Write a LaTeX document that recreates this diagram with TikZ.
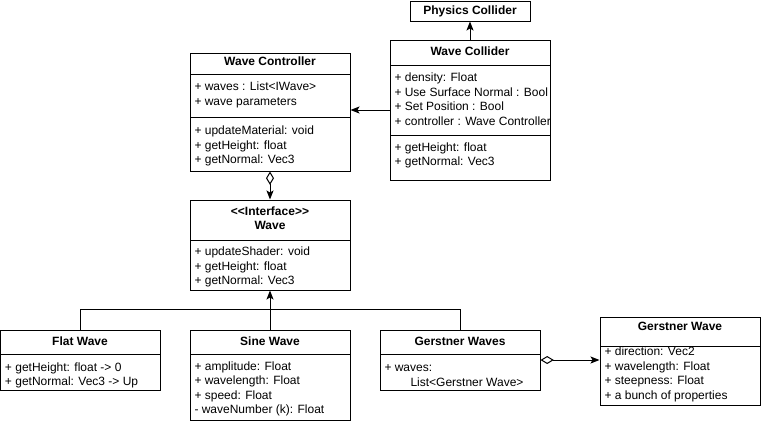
\documentclass[tikz,border=0pt]{standalone}
\usepackage{fontspec}
\setmainfont{Liberation Sans}
\usetikzlibrary{arrows.meta, fit}

\begin{document}
\begin{tikzpicture}[x=0.75pt, y=-0.75pt, line width=0.75pt,
  cls/.style={draw, inner sep=0pt},
  head/.style={font=\bfseries\fontsize{9}{10.9}\selectfont, align=center, inner sep=0pt},
  attrs/.style={anchor=west, align=left, font=\fontsize{9}{10.9}\selectfont, inner sep=0pt},
  link/.style={-{Stealth[length=6.75pt, width=5.25pt, inset=1.5pt]}},
  agg/.style={{Diamond[open, length=10pt, width=6pt]}-{Stealth[length=6.75pt, width=5.25pt, inset=1.5pt]}}]
  \useasboundingbox (0,0) rectangle (761,422);

  % Physics Collider
  \node[cls, fit={(410,1) (530,21)}] (phys) {};
  \node[head] (phys-h) at (470,11) {Physics Collider};

  % Wave Collider
  \node[cls, fit={(390,40) (550,180)}] (wcol) {};
  \draw (390,65) -- (550,65);
  \draw (390,135) -- (550,135);
  \node[head] (wcol-h) at (470,51) {Wave Collider};
  \node[attrs] (wcol-a) at (394,99) {+ density: Float\\+ Use Surface Normal : Bool\\+ Set Position : Bool\\+ controller : Wave Controller};
  \node[attrs] (wcol-m) at (394,155.5) {+ getHeight: float\\+ getNormal: Vec3};

  % Wave Controller
  \node[cls, fit={(190,53) (350,171)}] (wctrl) {};
  \draw (190,74) -- (350,74);
  \draw (190,117) -- (350,117);
  \node[head] (wctrl-h) at (270,61) {Wave Controller};
  \node[attrs] (wctrl-a) at (194,95) {+ waves : List<IWave>\\+ wave parameters};
  \node[attrs] (wctrl-m) at (194,146) {+ updateMaterial: void\\+ getHeight: float\\+ getNormal: Vec3};

  % Wave interface
  \node[cls, fit={(190,200) (350,290)}] (iwave) {};
  \draw (190,240) -- (350,240);
  \node[head] (iwave-h) at (270,218) {<{}<Interface>{}>\\Wave};
  \node[attrs] (iwave-m) at (194,267) {+ updateShader: void\\+ getHeight: float\\+ getNormal: Vec3};

  % Flat Wave
  \node[cls, fit={(0.5,330) (160,390)}] (flat) {};
  \draw (0.5,354) -- (160,354);
  \node[head] (flat-h) at (80,341) {Flat Wave};
  \node[attrs] (flat-m) at (4.5,375.5) {+ getHeight: float -> 0\\+ getNormal: Vec3 -> Up};

  % Sine Wave
  \node[cls, fit={(190,330) (350,420)}] (sine) {};
  \draw (190,354) -- (350,354);
  \node[head] (sine-h) at (270,341) {Sine Wave};
  \node[attrs] (sine-a) at (194,389) {+ amplitude: Float\\+ wavelength: Float\\+ speed: Float\\- waveNumber (k): Float};

  % Gerstner Waves
  \node[cls, fit={(380,330) (540,390)}] (gws) {};
  \draw (380,354) -- (540,354);
  \node[head] (gws-h) at (460,341) {Gerstner Waves};
  \node[attrs] (gws-a) at (384,375.5) {+ waves:\\\hspace*{19.5pt}List<Gerstner Wave>};

  % Gerstner Wave
  \node[cls, fit={(600,317) (760,405)}] (gw) {};
  \draw (600,346) -- (760,346);
  \node[head] (gw-h) at (680,326) {Gerstner Wave};
  \node[attrs] (gw-a) at (604,374.5) {+ direction: Vec2\\+ wavelength: Float\\+ steepness: Float\\+ a bunch of properties};

  % connectors
  \draw[link] (wcol.north) -- (phys.south);
  \draw[link] (wcol.west) -- (wcol.west -| wctrl.east);
  \draw[agg] (wctrl.south) -- (iwave.north);
  \draw[link] (sine.north) -- (iwave.south);
  \draw (flat.north) -- ++(0,-20) -| (gws.north);
  \draw[agg] (gws.east) -- (gws.east -| gw.west);

\end{tikzpicture}
\end{document}
